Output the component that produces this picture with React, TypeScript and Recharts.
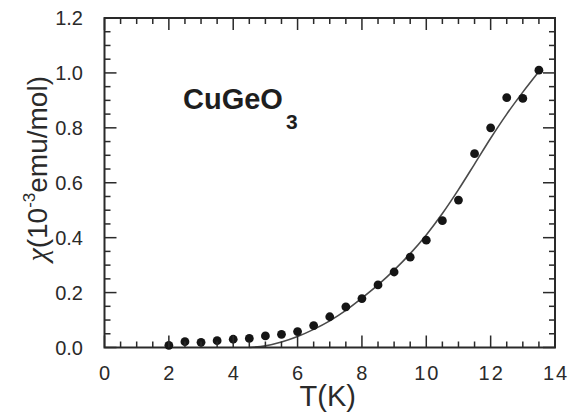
import React from 'react';
import { ComposedChart, XAxis, YAxis, Scatter, Line } from 'recharts';

// Measured susceptibility (dots)
const measuredT = [2.0, 2.5, 3.0, 3.5, 4.0, 4.5, 5.0, 5.5, 6.0, 6.5, 7.0, 7.5, 8.0, 8.5, 9.0, 9.5, 10.0, 10.5, 11.0, 11.5, 12.0, 12.5, 13.0, 13.5];
const measuredChi = [0.008, 0.021, 0.019, 0.025, 0.03, 0.033, 0.042, 0.048, 0.058, 0.08, 0.112, 0.148, 0.178, 0.228, 0.275, 0.329, 0.391, 0.462, 0.537, 0.706, 0.8, 0.91, 0.907, 1.01];

// Theoretical curve (solid line)
const fitT = [4.5, 5.0, 5.5, 6.0, 6.5, 7.0, 7.5, 8.0, 8.5, 9.0, 9.5, 10.0, 10.5, 11.0, 11.5, 12.0, 12.5, 13.0, 13.5];
const fitChi = [0.0, 0.006, 0.02, 0.04, 0.066, 0.097, 0.135, 0.18, 0.228, 0.282, 0.342, 0.41, 0.488, 0.575, 0.668, 0.762, 0.85, 0.93, 1.005];

// Axis ticks
const xMajorTicks = [0, 2, 4, 6, 8, 10, 12, 14];
const xAllTicks = [0, 0.5, 1, 1.5, 2, 2.5, 3, 3.5, 4, 4.5, 5, 5.5, 6, 6.5, 7, 7.5, 8, 8.5, 9, 9.5, 10, 10.5, 11, 11.5, 12, 12.5, 13, 13.5, 14];
const yMajorTicks = [0, 0.2, 0.4, 0.6, 0.8, 1.0, 1.2];
const yAllTicks = [0, 0.05, 0.1, 0.15, 0.2, 0.25, 0.3, 0.35, 0.4, 0.45, 0.5, 0.55, 0.6, 0.65, 0.7, 0.75, 0.8, 0.85, 0.9, 0.95, 1.0, 1.05, 1.1, 1.15, 1.2];

const X_DOMAIN = [0, 14];
const Y_DOMAIN = [0, 1.2];

const isMajor = (v: number, list: number[]) => list.some((m) => Math.abs(m - v) < 1e-6);

const measured = measuredT.map((t, i) => ({ t, chi: measuredChi[i] }));
const fit = fitT.map((t, i) => ({ t, fitChi: fitChi[i] }));

const CHART_W = 568;
const CHART_H = 416;
const MARGIN = { top: 18, right: 13, bottom: 0, left: 0 };
const PLOT_TOP = MARGIN.top;
const PLOT_RIGHT = CHART_W - MARGIN.right;

const FONT = '"Liberation Sans", Arial, Helvetica, sans-serif';
const TEXT = '#2a2a2a';
const EDGE = '#2a2a2a';
const MAJOR = 12;
const MINOR = 6;
const TW = 1.5; // tick thickness
const FW = 2; // frame thickness

// x ticks: inward marks on bottom and top edges + labels under the bottom edge
const BottomTick = (props: any) => {
  const { x, y, payload } = props;
  const major = isMajor(payload.value, xMajorTicks);
  const len = major ? MAJOR : MINOR;
  return (
    <g>
      <rect x={x - TW / 2} y={y - len} width={TW} height={len} fill={EDGE} />
      <rect x={x - TW / 2} y={PLOT_TOP} width={TW} height={len} fill={EDGE} />
      {major && (
        <text x={x + 1} y={y + 32.5} textAnchor="middle" fontFamily={FONT} fontSize={20} letterSpacing={2} fill={TEXT}>
          {String(payload.value)}
        </text>
      )}
    </g>
  );
};

// y ticks: inward marks on left and right edges + labels left of the plot
const LeftTick = (props: any) => {
  const { x, y, payload } = props;
  const major = isMajor(payload.value, yMajorTicks);
  const len = major ? MAJOR : MINOR;
  return (
    <g>
      <rect x={x} y={y - TW / 2} width={len} height={TW} fill={EDGE} />
      <rect x={PLOT_RIGHT - len} y={y - TW / 2} width={len} height={TW} fill={EDGE} />
      {major && (
        <text x={x - 21.5} y={y} dy="0.36em" textAnchor="end" fontFamily={FONT} fontSize={20} fill={TEXT}>
          {Number(payload.value).toFixed(1)}
        </text>
      )}
    </g>
  );
};

const Dot = (props: any) => {
  const { cx, cy } = props;
  if (cx == null || cy == null) return <g />;
  return <circle cx={cx} cy={cy} r={4.4} fill="#151515" />;
};

// x-axis title, plus the plot frame drawn as a filled ring from the axis box
const XTitle = (props: any) => {
  const vb = props.viewBox;
  const L = vb.x;
  const R = vb.x + vb.width;
  const B = vb.y;
  const T = PLOT_TOP;
  const h = FW / 2;
  const ring =
    `M${L - h},${T - h}H${R + h}V${B + h}H${L - h}Z` +
    `M${L + h},${T + h}V${B - h}H${R - h}V${T + h}Z`;
  return (
    <g>
      <path d={ring} fill={EDGE} fillRule="evenodd" />
      <text x={vb.x + vb.width / 2 - 2} y={vb.y + 58.5} textAnchor="middle" fontFamily={FONT} fontSize={29} fill={TEXT}>
        T(K)
      </text>
    </g>
  );
};

const YTitle = (props: any) => {
  const vb = props.viewBox;
  const cx = vb.x + 47;
  const cy = vb.y + vb.height / 2 - 14;
  return (
    <text x={cx} y={cy} transform={`rotate(-90, ${cx}, ${cy})`} textAnchor="middle" fontFamily={FONT} fontSize={28} fill={TEXT}>
      <tspan fontFamily='"Liberation Serif", "DejaVu Serif", serif' fontStyle="italic" fontSize={30}>χ</tspan>
      <tspan>(10</tspan>
      <tspan fontSize={17} dy={-12}>-3</tspan>
      <tspan dy={12}>emu/mol)</tspan>
    </text>
  );
};

export default function App() {
  return (
    <div style={{ position: 'absolute', left: 0, top: 0, width: CHART_W, height: CHART_H, background: '#fff' }}>
      <ComposedChart width={CHART_W} height={CHART_H} margin={MARGIN}>
        <XAxis
          xAxisId="b"
          type="number"
          dataKey="t"
          domain={X_DOMAIN}
          ticks={xAllTicks}
          interval={0}
          orientation="bottom"
          height={68.5}
          tickSize={0}
          tickMargin={0}
          tick={<BottomTick />}
          axisLine={false}
          tickLine={false}
          label={<XTitle />}
        />
        <YAxis
          yAxisId="l"
          type="number"
          domain={Y_DOMAIN}
          ticks={yAllTicks}
          interval={0}
          orientation="left"
          width={104.5}
          tickSize={0}
          tickMargin={0}
          tick={<LeftTick />}
          axisLine={false}
          tickLine={false}
          label={<YTitle />}
        />
        <Line
          xAxisId="b"
          yAxisId="l"
          data={fit}
          dataKey="fitChi"
          type="monotone"
          dot={false}
          stroke="#4a4a4a"
          strokeWidth={1.6}
          isAnimationActive={false}
        />
        <Scatter
          xAxisId="b"
          yAxisId="l"
          data={measured}
          dataKey="chi"
          shape={<Dot />}
          isAnimationActive={false}
        />
        <text x={183} y={109} fontFamily={FONT} fontSize={29} fontWeight="bold" fill="#1e1e1e">
          CuGeO
          <tspan fontSize={21} dx={3} dy={20}>3</tspan>
        </text>
      </ComposedChart>
    </div>
  );
}
